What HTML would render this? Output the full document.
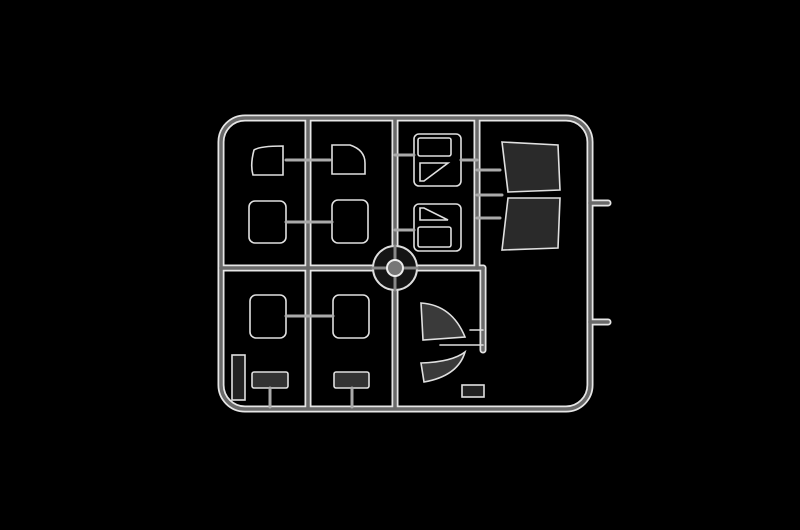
<!DOCTYPE html>
<html><head><meta charset="utf-8"><style>html,body{margin:0;padding:0;background:#000;width:800px;height:530px;overflow:hidden}</style></head>
<body>
<svg width="800" height="530" viewBox="0 0 800 530" xmlns="http://www.w3.org/2000/svg">
<rect width="800" height="530" fill="#000"/>
<defs>
<g id="run">
<rect x="221" y="118" width="369" height="291" rx="24"/>
<line x1="308" y1="120" x2="308" y2="407"/>
<line x1="395" y1="120" x2="395" y2="407"/>
<line x1="477" y1="120" x2="477" y2="268"/>
<line x1="483" y1="268" x2="483" y2="350"/>
<line x1="221" y1="268" x2="483" y2="268"/>
<line x1="590" y1="203" x2="608" y2="203"/>
<line x1="590" y1="322" x2="608" y2="322"/>
</g>
</defs>
<g fill="none" stroke-linecap="round">
<use href="#run" stroke="#e6e6e6" stroke-width="7"/>
<use href="#run" stroke="#6a6a6a" stroke-width="3.5"/>
<!-- hub -->
<circle cx="395" cy="268" r="22" stroke="#ddd" stroke-width="2" fill="#151515"/>
<line x1="373" y1="268" x2="417" y2="268" stroke="#888" stroke-width="3"/>
<line x1="395" y1="246" x2="395" y2="290" stroke="#888" stroke-width="3"/>
<circle cx="395" cy="268" r="8" stroke="#eee" stroke-width="2" fill="#777"/>
<!-- parts -->
<g stroke="#e0e0e0" stroke-width="1.6">
<path d="M254 150 Q260 146 283 146 L283 175 L253 175 Q250 165 254 150Z"/>
<path d="M332 145 L350 145 Q365 150 365 163 L365 174 L332 174Z"/>
<rect x="249" y="201" width="37" height="42" rx="6"/>
<rect x="332" y="200" width="36" height="43" rx="6"/>
<rect x="250" y="295" width="36" height="43" rx="6"/>
<rect x="333" y="295" width="36" height="43" rx="6"/>
<rect x="252" y="372" width="36" height="16" rx="2" fill="#333"/>
<rect x="334" y="372" width="35" height="16" rx="2" fill="#333"/>
<rect x="232" y="355" width="13" height="45" fill="#222"/>
<rect x="414" y="134" width="47" height="52" rx="5"/>
<rect x="418" y="138" width="33" height="18" rx="2"/>
<path d="M420 163 L448 163 L424 181 L420 181Z"/>
<rect x="414" y="204" width="47" height="47" rx="5"/>
<rect x="418" y="227" width="33" height="20" rx="2"/>
<path d="M420 220 L448 220 L424 208 L420 208Z"/>
<path d="M502 142 L558 145 L560 190 L508 192Z" fill="#2a2a2a"/>
<path d="M508 198 L560 198 L558 248 L502 250Z" fill="#2a2a2a"/>
<path d="M421 303 Q452 305 465 337 L423 340Z" fill="#3a3a3a"/>
<path d="M421 363 Q452 362 465 352 Q458 376 424 382Z" fill="#3a3a3a"/>
<line x1="440" y1="345" x2="483" y2="345"/>
<line x1="470" y1="330" x2="483" y2="330"/>
<rect x="462" y="385" width="22" height="12" fill="#222"/>
</g>
<g stroke="#aaa" stroke-width="3">
<line x1="286" y1="160" x2="330" y2="160"/>
<line x1="286" y1="222" x2="332" y2="222"/>
<line x1="286" y1="316" x2="333" y2="316"/>
<line x1="270" y1="388" x2="270" y2="407"/>
<line x1="352" y1="388" x2="352" y2="407"/>
<line x1="395" y1="155" x2="414" y2="155"/>
<line x1="395" y1="230" x2="414" y2="230"/>
<line x1="461" y1="160" x2="477" y2="160"/>
<line x1="477" y1="170" x2="500" y2="170"/>
<line x1="477" y1="195" x2="502" y2="195"/>
<line x1="477" y1="218" x2="500" y2="218"/>
</g>
</g>
</svg>
</body></html>
